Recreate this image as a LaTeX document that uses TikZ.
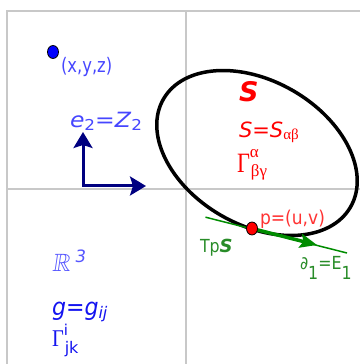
\documentclass[tikz,border=0pt]{standalone}
\usepackage{fontspec}
\usepackage{amssymb}
\usepackage{graphicx}
\setmainfont{DejaVu Sans}
\newfontfamily\serifgr{Liberation Serif}
\usetikzlibrary{arrows.meta,shapes.geometric}
\newcommand\fsz[1]{\fontsize{#1}{#1}\selectfont}
\newcommand\sx[2]{\scalebox{#1}[1]{#2}}
\definecolor{cgrid}{RGB}{200,200,200}
\definecolor{cxyz}{RGB}{70,70,255}
\definecolor{cnavy}{RGB}{0,0,128}
\definecolor{cdot}{RGB}{0,0,255}
\definecolor{cred}{RGB}{255,0,0}
\definecolor{cpuv}{RGB}{255,50,50}
\definecolor{cgreen}{RGB}{0,140,0}
\definecolor{cgtext}{RGB}{40,140,40}
\definecolor{cRR}{RGB}{85,85,255}
\definecolor{cgg}{RGB}{20,20,240}
\tikzset{
  gridline/.style={draw=cgrid, line width=1.5pt},
  txt/.style={inner sep=0pt, outer sep=0pt, anchor=base west},
  navyarrow/.style={draw=cnavy, line width=3pt, {Stealth[length=16pt,width=19pt,inset=3pt]}-{Stealth[length=16pt,width=19pt,inset=3pt]}},
  greenarrow/.style={draw=cgreen, line width=3.5pt, -{Stealth[length=17pt,width=14pt,inset=3pt]}},
  tangent/.style={draw=cgreen, line width=1.5pt},
}
\begin{document}
\begin{tikzpicture}[x=1pt,y=1pt]
\useasboundingbox (0,0) rectangle (360,364);
% grid
\coordinate (TL) at (7,353); \coordinate (TR) at (360,353);
\coordinate (BL) at (7,0);
\coordinate (VT) at (186,353); \coordinate (VB) at (186,0);
\coordinate (HL) at (7,175); \coordinate (HR) at (360,175);
\draw[gridline] (BL) -- (TL) -- (TR);
\draw[gridline] (VT) -- (VB);
\draw[gridline] (HL) -- (HR);
% point (x,y,z)
\node (pt) [ellipse, draw=black, line width=0.8pt, fill=cdot, minimum width=11pt, minimum height=13pt, inner sep=0pt] at (53,312) {};
\node[txt, text=cxyz] (xyz) at (61,291.5) {\fsz{20}\sx{0.82}{(x,y,z)}};
% basis
\coordinate (O) at (83,178);
\coordinate (E1) at (146,178);
\coordinate (E2) at (83,232);
\draw[navyarrow] (E2) -- (O) -- (E1);
\node[txt, text=cxyz] (e2) at (70,236) {\fsz{21}\sx{1.12}{\textit{e}\raisebox{-3pt}{\fsz{15}2}=\textit{Z}\raisebox{-3pt}{\fsz{15}2}}};
% surface
\draw[line width=3.5pt, rotate around={-30:(257,211)}] (257,211) ellipse [x radius=108pt, y radius=72pt];
\node[txt, text=cred] (S) at (239,262) {\fsz{27}\bfseries\itshape S};
\node[txt, text=cred] (Sab) at (239,226) {\fsz{21}\itshape S\upshape=\itshape S\upshape\raisebox{-2pt}{\serifgr\fsz{15}αβ}};
\node[txt, text=cred] (G1) at (237,191) {\serifgr\fsz{28}\sx{0.8}{Γ}\rlap{\raisebox{15pt}{\fsz{17}α}}\kern1pt\raisebox{-4pt}{\fsz{17}βγ}};
% tangent
\coordinate (p) at (252,135.5);
\coordinate (tA) at (205.5,146.8);
\coordinate (tB) at (347,111);
\coordinate (tE) at (317,119);
\draw[tangent] (tA) -- (tB);
\draw[greenarrow] (p) -- (tE);
\node (pdot) [ellipse, draw=black, line width=0.8pt, fill=red, minimum width=11pt, minimum height=13pt, inner sep=0pt] at (p) {};
\node[txt, text=cpuv] (puv) at (260,139) {\fsz{19}\sx{0.9}{p=(u,v)}};
\node[txt, text=cgtext] (TpS) at (200,111) {\fsz{18}\sx{0.88}{Tp}\bfseries\itshape S};
\node[txt, text=cgtext] (d1) at (300,94) {\fsz{18}\sx{0.88}{∂\raisebox{-10pt}{1}=E\raisebox{-10pt}{1}}};
% R3 block
\node[txt, text=cRR, xslant=0.15] (R3) at (52,92) {\fsz{25}$\mathbb{R}$\kern3pt\raisebox{9pt}{\fsz{17}3}};
\node[txt, text=cgg] (gij) at (52,48) {\fsz{24}\sx{0.92}{\itshape g\upshape=\itshape g}\raisebox{-3pt}{\fsz{16}\itshape ij}};
\node[txt, text=cgg] (G2) at (52,17) {\serifgr\fsz{24}\sx{0.85}{Γ}\rlap{\raisebox{11pt}{\rmfamily\fsz{15}i}}\kern1pt\raisebox{-7pt}{\rmfamily\fsz{16}jk}};
\end{tikzpicture}
\end{document}
